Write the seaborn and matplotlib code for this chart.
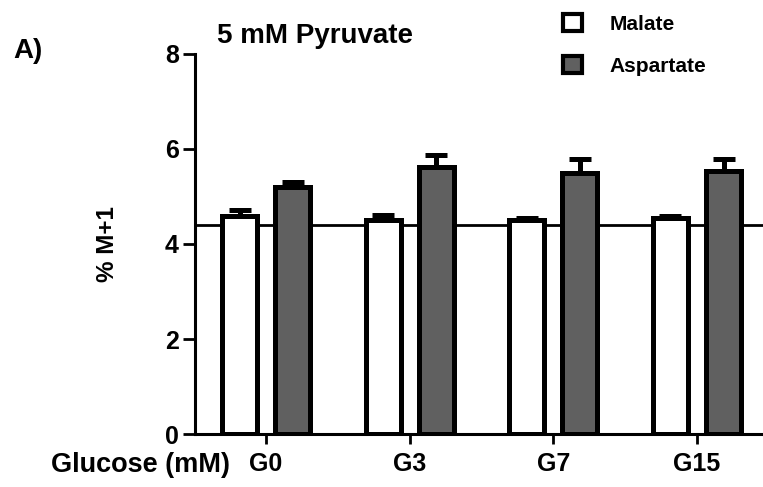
import numpy as np
import pandas as pd
import matplotlib
matplotlib.use("Agg")
import matplotlib.pyplot as plt
from matplotlib.patches import Patch
import seaborn as sns

# values (% M+1, mean and upper SEM)
glucose = ["G0", "G3", "G7", "G15"]
metabolites = ["Malate", "Aspartate"]
malate = [4.59, 4.50, 4.50, 4.54]
malate_err = [0.12, 0.11, 0.05, 0.04]
aspartate = [5.20, 5.61, 5.50, 5.54]
aspartate_err = [0.10, 0.26, 0.28, 0.24]
baseline = 4.40
yticks = [0, 2, 4, 6, 8]

sns.set_style("ticks")
plt.rcParams["font.family"] = ["Liberation Sans", "DejaVu Sans"]
plt.rcParams["font.weight"] = "bold"
for k in ["text.color", "axes.labelcolor", "xtick.color", "ytick.color",
          "axes.edgecolor"]:
    plt.rcParams[k] = "black"

df = pd.DataFrame({
    "glucose": glucose * 2,
    "metabolite": ["Malate"] * 4 + ["Aspartate"] * 4,
    "value": malate + aspartate,
})
errs = malate_err + aspartate_err

fig = plt.figure(figsize=(7.63, 4.87), dpi=100)
ax = fig.add_axes([195 / 763, 52.7 / 487, 1 - 195 / 763, 380.7 / 487])

ax.axhline(baseline, color="black", lw=2, zorder=0)
sns.barplot(data=df, x="glucose", y="value", hue="metabolite",
            order=glucose, hue_order=metabolites,
            palette={"Malate": "white", "Aspartate": "#606060"},
            edgecolor="black", linewidth=3.6, width=0.74, gap=0.34,
            errorbar=None, legend=False, ax=ax, zorder=2)

bars = list(ax.patches)
xs = [p.get_x() + p.get_width() / 2 for p in bars]
hs = [p.get_height() for p in bars]
eb = ax.errorbar(xs, hs, yerr=[np.zeros(len(errs)), errs], fmt="none",
                 ecolor="black", elinewidth=3.6, capsize=8, capthick=3.6,
                 zorder=3)
for line in eb[1]:
    line.set_solid_capstyle("round")

ax.set_xlim(-0.495, 3.46)
ax.set_ylim(0, 8)
ax.set_yticks(yticks)
ax.set_xlabel("")
ax.set_ylabel("% M+1", fontsize=17.5, fontweight="bold", labelpad=33)
sns.despine(ax=ax)
for s in ["left", "bottom"]:
    ax.spines[s].set_linewidth(2.2)
ax.tick_params(axis="y", length=8.6, width=2, labelsize=18, pad=3)
ax.tick_params(axis="x", length=7, width=2, labelsize=18, pad=6)

ax.annotate("Glucose (mM)", xy=(0, 0), xycoords="axes fraction",
            xytext=(35, -18), textcoords="offset pixels",
            ha="right", va="top", fontsize=19.5, fontweight="bold")

ax.text(0.211, 1.028, "5 mM Pyruvate", transform=ax.transAxes,
        ha="center", va="baseline", fontsize=20, fontweight="bold")
fig.text(13 / 763, 1 - 58 / 487, "A)", ha="left", va="baseline",
         fontsize=20, fontweight="bold")

handles = [Patch(facecolor="white", edgecolor="black", lw=3),
           Patch(facecolor="#606060", edgecolor="black", lw=3)]
fig.legend(handles, metabolites, loc="upper left",
           bbox_to_anchor=(563 / 763, 1 - 14 / 487), frameon=False,
           fontsize=15, handlelength=0.9, handleheight=0.9,
           handletextpad=1.35, labelspacing=1.05, borderpad=0,
           borderaxespad=0)

fig.savefig("out.png", dpi=100)
